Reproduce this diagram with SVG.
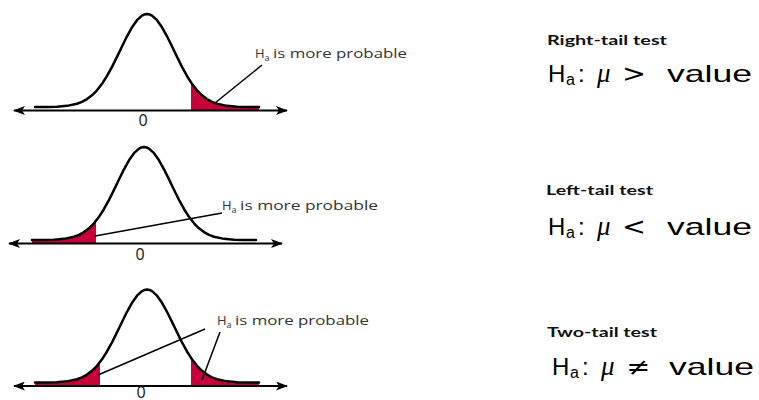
<svg xmlns="http://www.w3.org/2000/svg" xmlns:xlink="http://www.w3.org/1999/xlink" width="759" height="400" viewBox="0 0 759 400">
  <style>
    .curve { fill: none; stroke: #000; stroke-width: 2.5; stroke-linejoin: round; stroke-linecap: round; }
    .tail { fill: #c8003a; stroke: none; }
    .axis { stroke: #000; stroke-width: 2; fill: none; marker-start: url(#arr); marker-end: url(#arr); }
    .lead { stroke: #000; stroke-width: 1.5; fill: none; }
    .zero { font-family: "Open Sans", "Liberation Sans", sans-serif; font-size: 16px; fill: #111; text-anchor: middle; }
    .lbl { font-family: "Open Sans", "Liberation Sans", sans-serif; font-size: 13px; fill: #333; }
    .sub { font-family: "Open Sans", "Liberation Sans", sans-serif; font-size: 9px; fill: #333; }
    .title { font-family: Lato, "Open Sans", "Liberation Sans", sans-serif; font-size: 14px; font-weight: 700; fill: #111; }
    .fH { font-family: "Liberation Sans", Arial, sans-serif; font-size: 24px; fill: #000; }
    .fa { font-family: "Liberation Sans", Arial, sans-serif; font-size: 16px; fill: #000; }
    .fmu { font-family: "Liberation Serif", "DejaVu Serif", serif; font-style: italic; font-size: 27px; fill: #000; }
    .frel { font-family: "DejaVu Sans", "Liberation Sans", sans-serif; font-size: 24px; fill: #000; }
  </style>
  <defs>
    <marker id="arr" viewBox="0 0 12 9" refX="11" refY="4.5" markerWidth="12" markerHeight="9" markerUnits="userSpaceOnUse" orient="auto-start-reverse">
      <path d="M0,0 L12,4.5 L0,9 L3,4.5 Z" fill="#000"/>
    </marker>
    <path id="bell" class="curve" d="M-112,0 L-100,-0.1 -90,-0.36 -80,-1.15 -70,-3.23 -65,-5.13 -60,-7.88 -55,-11.68 -50,-16.74 -45,-23.19 -40,-31.03 -35,-40.14 -30,-50.17 -25,-60.58 -20,-70.69 -15,-79.7 -10,-86.83 -5,-91.42 -2.5,-92.6 0,-93 2.5,-92.6 5,-91.42 10,-86.83 15,-79.7 20,-70.69 25,-60.58 30,-50.17 35,-40.14 40,-31.03 45,-23.19 50,-16.74 55,-11.68 60,-7.88 65,-5.13 70,-3.23 80,-1.15 90,-0.36 100,-0.1 112,0"/>
  </defs>

  <!-- Panel 1: right tail -->
  <g id="panel-right">
    <g transform="translate(147,107)">
      <path class="tail" d="M44,3.5 L44,-24.65 45,-23.19 50,-16.74 55,-11.68 60,-7.88 65,-5.13 70,-3.23 80,-1.15 90,-0.36 100,-0.1 112,0 L112,3.5 Z"/>
      <use xlink:href="#bell"/>
    </g>
    <line class="axis" x1="14" y1="110.5" x2="287" y2="110.5"/>
    <text class="zero" x="143" y="126">0</text>
  </g>

  <!-- Panel 2: left tail -->
  <g id="panel-left">
    <g transform="translate(144,240)">
      <path class="tail" d="M-112,3.5 L-112,0 -100,-0.1 -90,-0.36 -80,-1.15 -70,-3.23 -65,-5.13 -60,-7.88 -55,-11.68 -50,-16.74 -48,-19.15 L-48,3.5 Z"/>
      <use xlink:href="#bell"/>
    </g>
    <line class="axis" x1="9" y1="243.5" x2="282" y2="243.5"/>
    <text class="zero" x="140" y="260">0</text>
  </g>

  <!-- Panel 3: two tails -->
  <g id="panel-two">
    <g transform="translate(147,382.5)">
      <path class="tail" d="M-112,3.5 L-112,0 -100,-0.1 -90,-0.36 -80,-1.15 -70,-3.23 -65,-5.13 -60,-7.88 -55,-11.68 -50,-16.74 -47,-20.44 L-47,3.5 Z"/>
      <path class="tail" d="M44,3.5 L44,-24.65 45,-23.19 50,-16.74 55,-11.68 60,-7.88 65,-5.13 70,-3.23 80,-1.15 90,-0.36 100,-0.1 112,0 L112,3.5 Z"/>
      <use xlink:href="#bell"/>
    </g>
    <line class="axis" x1="14" y1="386" x2="287" y2="386"/>
    <text class="zero" x="141" y="398">0</text>
  </g>

  <!-- Labels -->
  <g id="label-1">
    <text class="lbl" x="255" y="58">H</text>
    <text class="sub" x="264.5" y="61">a</text>
    <text class="lbl" x="273" y="58" textLength="134" lengthAdjust="spacingAndGlyphs">is more probable</text>
  </g>
  <g id="label-2">
    <text class="lbl" x="222" y="210">H</text>
    <text class="sub" x="231.5" y="213">a</text>
    <text class="lbl" x="240" y="210" textLength="138" lengthAdjust="spacingAndGlyphs">is more probable</text>
  </g>
  <g id="label-3">
    <text class="lbl" x="217" y="325">H</text>
    <text class="sub" x="226.5" y="328">a</text>
    <text class="lbl" x="235" y="325" textLength="134" lengthAdjust="spacingAndGlyphs">is more probable</text>
  </g>

  <!-- Connectors (leader lines) -->
  <g id="connectors">
    <line class="lead" x1="262" y1="65" x2="215" y2="103"/>
    <line class="lead" x1="222" y1="213" x2="95" y2="236"/>
    <line class="lead" x1="205" y1="329" x2="98" y2="375"/>
    <line class="lead" x1="220" y1="332" x2="202" y2="380"/>
  </g>

  <!-- Right-hand descriptions -->
  <g id="desc-right">
    <text class="title" x="547" y="45" textLength="120" lengthAdjust="spacingAndGlyphs">Right-tail test</text>
    <text class="fH" x="548" y="82">H</text>
    <text class="fa" x="566" y="85">a</text>
    <text class="fH" x="578" y="82">:</text>
    <text class="fmu" x="597" y="82">μ</text>
    <text class="frel" x="622" y="82" textLength="24" lengthAdjust="spacingAndGlyphs">&gt;</text>
    <text class="fH" x="667" y="82" textLength="85" lengthAdjust="spacingAndGlyphs">value</text>
  </g>
  <g id="desc-left">
    <text class="title" x="546" y="195" textLength="107" lengthAdjust="spacingAndGlyphs">Left-tail test</text>
    <text class="fH" x="548" y="235">H</text>
    <text class="fa" x="566" y="238">a</text>
    <text class="fH" x="578" y="235">:</text>
    <text class="fmu" x="597" y="235">μ</text>
    <text class="frel" x="622" y="235" textLength="24" lengthAdjust="spacingAndGlyphs">&lt;</text>
    <text class="fH" x="667" y="235" textLength="85" lengthAdjust="spacingAndGlyphs">value</text>
  </g>
  <g id="desc-two">
    <text class="title" x="547" y="337" textLength="110" lengthAdjust="spacingAndGlyphs">Two-tail test</text>
    <text class="fH" x="552" y="375">H</text>
    <text class="fa" x="570" y="378">a</text>
    <text class="fH" x="582" y="375">:</text>
    <text class="fmu" x="601" y="375">μ</text>
    <text class="frel" x="626" y="375" textLength="24" lengthAdjust="spacingAndGlyphs">≠</text>
    <text class="fH" x="669" y="375" textLength="85" lengthAdjust="spacingAndGlyphs">value</text>
  </g>
</svg>
